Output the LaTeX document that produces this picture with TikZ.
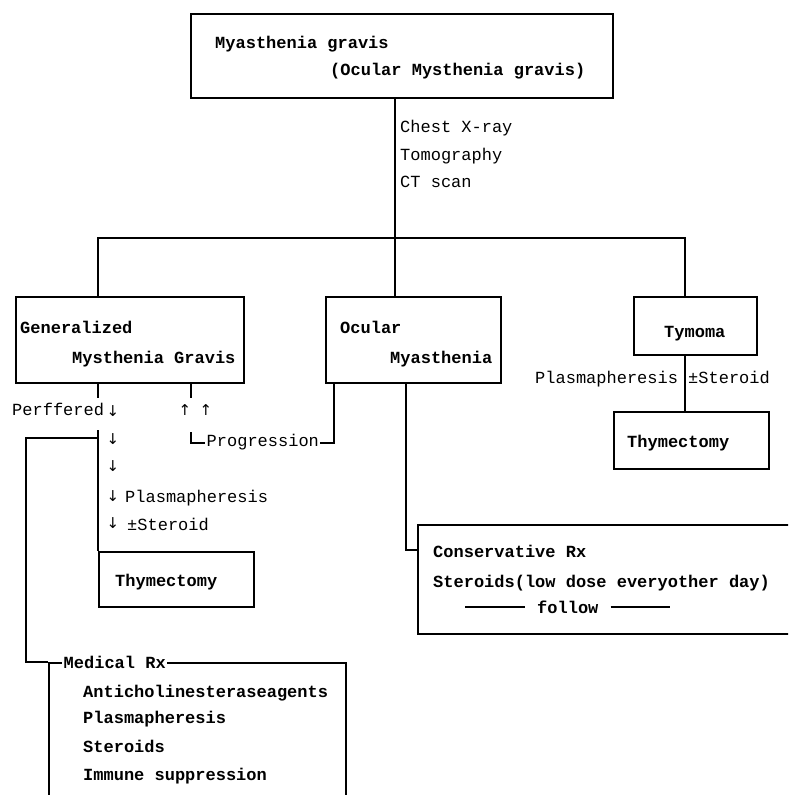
\documentclass[tikz,border=0pt]{standalone}
\usepackage{fontspec}
\newfontfamily\mono{Liberation Mono}
\newfontfamily\arr{DejaVu Sans}
\begin{document}
\begin{tikzpicture}[x=1pt,y=-1pt,
  box/.style={draw, line width=1.5pt, rectangle, inner sep=0pt, anchor=north west},
  conn/.style={line width=1.4pt},
  txt/.style={anchor=base west, inner sep=0pt, font=\mono\fontsize{17}{20}\selectfont},
  btxt/.style={txt, font=\mono\bfseries\fontsize{17}{20}\selectfont},
  ar/.style={anchor=center, inner sep=0pt, font=\arr\fontsize{15}{18}\selectfont}]
\useasboundingbox (0,0) rectangle (788,795);
\clip (0,0) rectangle (788,795);

% boxes
\node[box, minimum width=422pt, minimum height=84pt] (top) at (190,13) {};
\node[box, minimum width=228pt, minimum height=86pt] (gen) at (15,296) {};
\node[box, minimum width=175pt, minimum height=86pt] (ocu) at (325,296) {};
\node[box, minimum width=123pt, minimum height=58pt] (tym) at (633,296) {};
\node[box, minimum width=155pt, minimum height=57pt] (thyR) at (613,411) {};
\node[box, minimum width=155pt, minimum height=55pt] (thyL) at (98,551) {};
\node[box, minimum width=375pt, minimum height=109pt] (cons) at (417,524) {};
\node[box, minimum width=297pt, minimum height=150pt] (med) at (48,662) {};

% column coordinates
\coordinate (xg) at (98,0);
\coordinate (xp) at (191,0);
\coordinate (xo) at (395,0);
\coordinate (xol) at (334,0);
\coordinate (xt) at (685,0);
\coordinate (busL) at (98,238);
\coordinate (busR) at (685,238);
\coordinate (gA) at (98,398);
\coordinate (gB) at (98,430);
\coordinate (gC) at (98,438);
\coordinate (lL) at (26,438);
\coordinate (lB) at (26,662);
\coordinate (pA) at (191,398);
\coordinate (pB) at (191,432);
\coordinate (pC) at (191,443);
\coordinate (pD) at (334,443);
\coordinate (cj) at (406,550);

% connectors
\draw[conn] (top.south -| xo) -- (ocu.north -| xo);
\draw[conn] (gen.north -| xg) -- (busL) -- (busR) -- (tym.north -| xt);
\draw[conn] (tym.south -| xt) -- (thyR.north -| xt);
\draw[conn] (gen.south -| xg) -- (gA);
\draw[conn] (gB) -- (thyL.north west);
\draw[conn] (gC) -- (lL) -- (lB) -- (med.north west);
\draw[conn] (gen.south -| xp) -- (pA);
\draw[conn] (pB) -- (pC) -- (pD) -- (ocu.south -| xol);
\draw[conn] (ocu.south -| cj) -- (cj) -- (cj -| cons.west);

% texts
\node[btxt] (t1) at (215,48) {Myasthenia gravis};
\node[btxt] (t2) at (330,75) {(Ocular Mysthenia gravis)};
\node[txt] (c1) at (400,132) {Chest X-ray};
\node[txt] (c2) at (400,160) {Tomography};
\node[txt] (c3) at (400,187) {CT scan};

\node[btxt] (g1) at (20,333) {Generalized};
\node[btxt] (g2) at (72,363) {Mysthenia Gravis};
\node[btxt] (o1) at (340,333) {Ocular};
\node[btxt] (o2) at (390,363) {Myasthenia};
\node[btxt] (ty) at (664,337) {Tymoma};
\node[txt] (tp) at (535,383) {Plasmapheresis};
\node[txt] (ts) at (688,383) {±Steroid};
\node[btxt] (tt) at (627,447) {Thymectomy};

\node[txt] (pf) at (12,415) {Perffered};
\node[ar] (d1) at (113,411) {↓};
\node[ar] (d2) at (113,439) {↓};
\node[ar] (d3) at (113,466) {↓};
\node[ar] (d4) at (113,496) {↓};
\node[ar] (d5) at (113,523) {↓};
\node[ar] (u1) at (185,410) {↑};
\node[ar] (u2) at (206,410) {↑};
\node[txt, fill=white, inner sep=1.5pt] (prog) at (205,446) {Progression};
\node[txt] (lp) at (125,502) {Plasmapheresis};
\node[txt] (ls) at (127,530) {±Steroid};
\node[btxt] (lt) at (115,586) {Thymectomy};

\node[btxt, fill=white, inner sep=1.5pt] (mr) at (62,668) {Medical Rx};
\node[btxt] (m1) at (83,697) {Anticholinesteraseagents};
\node[btxt] (m2) at (83,723) {Plasmapheresis};
\node[btxt] (m3) at (83,752) {Steroids};
\node[btxt] (m4) at (83,780) {Immune suppression};

\node[btxt] (k1) at (433,557) {Conservative Rx};
\node[btxt] (k2) at (433,587) {Steroids(low dose everyother day)};
\node[btxt] (fol) at (537,613) {follow};
\coordinate (fl) at (465,607);
\coordinate (fr) at (670,607);
\draw[line width=1.6pt] (fl) -- ([xshift=-12pt]fol.west |- fl);
\draw[line width=1.6pt] ([xshift=12pt]fol.east |- fr) -- (fr);
\end{tikzpicture}
\end{document}
